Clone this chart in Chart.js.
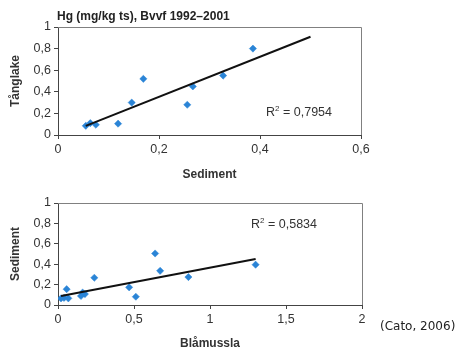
<!DOCTYPE html>
<html>
<head>
<meta charset="utf-8">
<script src="https://cdn.jsdelivr.net/npm/chart.js@4"></script>
<style>
  html, body { margin: 0; padding: 0; background: #fff; }
  body { width: 461px; height: 352px; position: relative; overflow: hidden; font-family: "Liberation Sans", Arial, sans-serif; }
  .wrap { position: absolute; left: 0; width: 461px; }
  #w1 { top: 0; height: 182px; }
  #w2 { top: 182px; height: 170px; }
  #title { position: absolute; left: 57px; top: 9px; font: bold 12px "Liberation Sans", Arial, sans-serif; color: #222; white-space: nowrap; }
  #source { position: absolute; left: 380px; top: 319px; font: 12px "DejaVu Sans", Verdana, sans-serif; color: #222; white-space: nowrap; }
</style>
</head>
<body>
<div class="wrap" id="w1"><canvas id="c1" width="461" height="182"></canvas></div>
<div class="wrap" id="w2"><canvas id="c2" width="461" height="170"></canvas></div>
<div id="title">Hg (mg/kg ts), Bvvf 1992–2001</div>
<div id="source">(Cato, 2006)</div>
<script>
// ---- Chart 1: Tånglake vs Sediment ----
const sedimentX1 = [0.055, 0.064, 0.075, 0.119, 0.146, 0.169, 0.256, 0.267, 0.327, 0.386];
const tanglakeY1 = [0.085, 0.11, 0.095, 0.105, 0.30, 0.52, 0.28, 0.45, 0.55, 0.80];
const trendX1 = [0.055, 0.50];
const trendY1 = [0.085, 0.91];
const r2Value1 = "0,7954";
const r2Pos1 = [0.412, 0.215];
const xTicks1 = [0, 0.2, 0.4, 0.6];
const yTicks = [0, 0.2, 0.4, 0.6, 0.8, 1];

// ---- Chart 2: Sediment vs Blåmussla ----
const blamusslaX2 = [0.02, 0.04, 0.068, 0.057, 0.151, 0.162, 0.177, 0.239, 0.468, 0.512, 0.639, 0.672, 0.858, 1.30];
const sedimentY2 = [0.065, 0.07, 0.065, 0.155, 0.088, 0.122, 0.107, 0.267, 0.173, 0.081, 0.505, 0.335, 0.274, 0.395];
const trendX2 = [0.02, 1.30];
const trendY2 = [0.088, 0.45];
const r2Value2 = "0,5834";
const r2Pos2 = [1.27, 0.79];
const xTicks2 = [0, 0.5, 1, 1.5, 2];

const toPts = (xs, ys) => xs.map((x, i) => ({x: x, y: ys[i]}));
const fmt = v => String(v).replace('.', ',');
const FONT = '"Liberation Sans", Arial, sans-serif';

const framePlugin = {
  id: 'frame',
  afterDraw(chart, args, opts) {
    const {ctx, chartArea: a, scales} = chart;
    ctx.save();
    ctx.strokeStyle = '#808080';
    ctx.lineWidth = 1;
    ctx.beginPath();
    ctx.moveTo(a.left, a.top + 0.5);
    ctx.lineTo(a.right + 0.5, a.top + 0.5);
    ctx.lineTo(a.right + 0.5, a.bottom);
    ctx.stroke();
    // R² annotation with a real superscript
    let x = scales.x.getPixelForValue(opts.pos[0]);
    const y = scales.y.getPixelForValue(opts.pos[1]);
    ctx.fillStyle = '#333';
    ctx.textBaseline = 'alphabetic';
    ctx.textAlign = 'left';
    ctx.font = '12.5px ' + FONT;
    ctx.fillText('R', x, y + 4);
    x += ctx.measureText('R').width;
    ctx.font = '8px ' + FONT;
    ctx.fillText('2', x, y - 1);
    x += ctx.measureText('2').width;
    ctx.font = '12.5px ' + FONT;
    ctx.fillText(' = ' + opts.value, x, y + 4);
    ctx.restore();
  }
};

function makeChart(id, xs, ys, tx, ty, xTicks, xMax, xTitle, yTitle, r2v, r2pos, pad, xAxisH) {
  return new Chart(document.getElementById(id), {
    type: 'scatter',
    data: {
      datasets: [
        {
          data: toPts(xs, ys),
          pointStyle: 'rectRot',
          pointRadius: 3.6,
          backgroundColor: '#2a84d6',
          borderColor: '#2a84d6',
          borderWidth: 0.5,
          order: 2
        },
        {
          type: 'line',
          data: toPts(tx, ty),
          borderColor: '#111',
          borderWidth: 2,
          pointRadius: 0,
          showLine: true,
          fill: false,
          order: 1
        }
      ]
    },
    options: {
      responsive: false,
      animation: false,
      events: [],
      layout: { padding: pad },
      plugins: {
        legend: { display: false },
        tooltip: { enabled: false },
        frame: { value: r2v, pos: r2pos }
      },
      scales: {
        x: {
          type: 'linear',
          min: 0, max: xMax,
          afterBuildTicks: s => { s.ticks = xTicks.map(v => ({value: v})); },
          afterFit: s => { s.height = xAxisH; s.paddingLeft = 0; s.paddingRight = 0; },
          ticks: { callback: v => fmt(v), color: '#333', font: { size: 12.5, family: FONT }, padding: 3, maxRotation: 0 },
          grid: { drawOnChartArea: false, drawTicks: true, tickLength: 4, color: '#444' },
          border: { color: '#444', width: 1 },
          title: { display: true, text: xTitle, color: '#333', font: { size: 12, weight: 'bold', family: FONT }, padding: 0 }
        },
        y: {
          type: 'linear',
          min: 0, max: 1,
          afterBuildTicks: s => { s.ticks = yTicks.map(v => ({value: v})); },
          afterFit: s => { s.width = 58; },
          ticks: { callback: v => fmt(v), color: '#333', font: { size: 12.5, family: FONT }, padding: 3 },
          grid: { drawOnChartArea: false, drawTicks: true, tickLength: 4, color: '#444' },
          border: { color: '#444', width: 1 },
          title: { display: true, text: yTitle, color: '#333', font: { size: 12, weight: 'bold', family: FONT }, padding: { top: 8, bottom: 0 } }
        }
      }
    },
    plugins: [framePlugin]
  });
}

makeChart('c1', sedimentX1, tanglakeY1, trendX1, trendY1, xTicks1, 0.6, 'Sediment', 'Tånglake', r2Value1, r2Pos1,
  { left: 0, right: 100, top: 27, bottom: 0 }, 47);
makeChart('c2', blamusslaX2, sedimentY2, trendX2, trendY2, xTicks2, 2, 'Blåmussla', 'Sediment', r2Value2, r2Pos2,
  { left: 0, right: 99, top: 21, bottom: 1 }, 46);
</script>
</body>
</html>
